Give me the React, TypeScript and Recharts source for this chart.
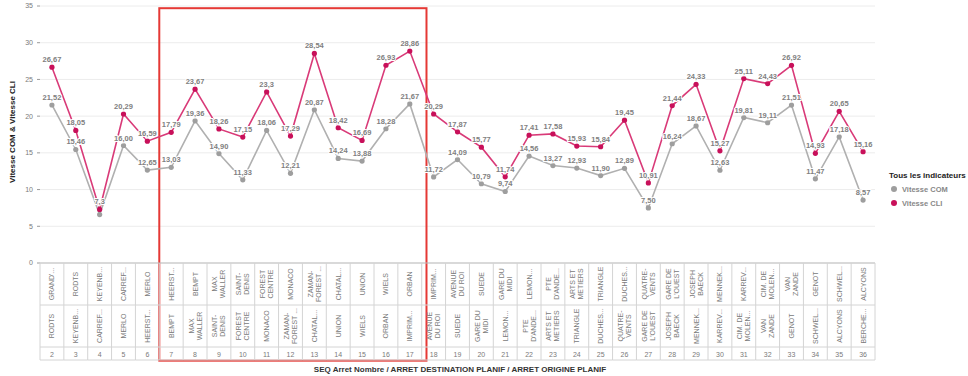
import React from "react";
import {
  LineChart,
  Line,
  XAxis,
  YAxis,
  CartesianGrid,
  LabelList,
  ReferenceArea,
} from "recharts";

const categories = [2, 3, 4, 5, 6, 7, 8, 9, 10, 11, 12, 13, 14, 15, 16, 17, 18, 19, 20, 21, 22, 23, 24, 25, 26, 27, 28, 29, 30, 31, 32, 33, 34, 35, 36];

const destinationLabels = [
  "GRAND'...", "RODTS", "KEYENB...", "CARREF...", "MERLO", "HEERST...", "BEMPT", "MAX\nWALLER",
  "SAINT-\nDENIS", "FOREST\nCENTRE", "MONACO", "ZAMAN-\nFOREST ...", "CHATAL...", "UNION", "WIELS",
  "ORBAN", "IMPRIM...", "AVENUE\nDU ROI", "SUEDE", "GARE DU\nMIDI", "LEMON...", "PTE\nD'ANDE...",
  "ARTS ET\nMETIERS", "TRIANGLE", "DUCHES...", "QUATRE-\nVENTS", "GARE DE\nL'OUEST", "JOSEPH\nBAECK",
  "MENNEK...", "KARREV...", "CIM. DE\nMOLEN...", "VAN\nZANDE", "GENOT", "SCHWEL...", "ALCYONS",
];

const originLabels = [
  "RODTS", "KEYENB...", "CARREF...", "MERLO", "HEERST...", "BEMPT", "MAX\nWALLER", "SAINT-\nDENIS",
  "FOREST\nCENTRE", "MONACO", "ZAMAN-\nFOREST ...", "CHATAL...", "UNION", "WIELS", "ORBAN",
  "IMPRIM...", "AVENUE\nDU ROI", "SUEDE", "GARE DU\nMIDI", "LEMON...", "PTE\nD'ANDE...",
  "ARTS ET\nMETIERS", "TRIANGLE", "DUCHES...", "QUATRE-\nVENTS", "GARE DE\nL'OUEST", "JOSEPH\nBAECK",
  "MENNEK...", "KARREV...", "CIM. DE\nMOLEN...", "VAN\nZANDE", "GENOT", "SCHWEL...", "ALCYONS", "BERCHE...",
];

// values as printed on the chart (comma decimals)
const vitesseCom = [
  "21,52", "15,46", "6,6", "16,00", "12,65", "13,03", "19,36", "14,90", "11,33", "18,06", "12,21",
  "20,87", "14,24", "13,88", "18,28", "21,67", "11,72", "14,09", "10,79", "9,74", "14,56", "13,27",
  "12,93", "11,90", "12,89", "7,50", "16,24", "18,67", "12,63", "19,81", "19,11", "21,51", "11,47",
  "17,18", "8,57",
];

const vitesseCli = [
  "26,67", "18,05", "7,3", "20,29", "16,59", "17,79", "23,67", "18,26", "17,15", "23,3", "17,29",
  "28,54", "18,42", "16,69", "26,93", "28,86", "20,29", "17,87", "15,77", "11,74", "17,41", "17,58",
  "15,93", "15,84", "19,45", "10,91", "21,44", "24,33", "15,27", "25,11", "24,43", "26,92", "14,93",
  "20,65", "15,16",
];

// labels hidden by overlap in the original
const hiddenComLabels = [4];

const yTicks = [0, 5, 10, 15, 20, 25, 30, 35];

const toNum = (s: string) => parseFloat(s.replace(",", "."));

const data = categories.map((c, i) => ({
  seq: c,
  dest: destinationLabels[i],
  orig: originLabels[i],
  com: toNum(vitesseCom[i]),
  cli: toNum(vitesseCli[i]),
  comLabel: hiddenComLabels.includes(c) ? "" : vitesseCom[i],
  cliLabel: vitesseCli[i],
}));

const W = 968;
const H = 376;
const LEFT = 40;
const RIGHT = 875;
const COL_W = (RIGHT - LEFT) / categories.length;
const FONT = "'Liberation Sans', Arial, sans-serif";
const GRID = "#d4d4d4";
const TXT = "#7a7a7a";
const COM_COLOR = "#b0b0b0";
const COM_DOT = "#9e9e9e";
const CLI_COLOR = "#d93a78";
const CLI_DOT = "#c8105a";

function RotText({ cx, cy, label }: { cx: number; cy: number; label: string }) {
  const lines = label.split("\n");
  const lh = 8;
  return (
    <text
      transform={`rotate(-90, ${cx}, ${cy})`}
      x={cx}
      y={cy}
      textAnchor="middle"
      fontSize={7}
      fill={TXT}
      fontFamily={FONT}
    >
      {lines.map((ln, i) => (
        <tspan key={i} x={cx} y={cy + (i - (lines.length - 1) / 2) * lh + 2.5}>
          {ln}
        </tspan>
      ))}
    </text>
  );
}

function TableTick(props: any) {
  const { x, y, index } = props;
  const d = data[index];
  if (!d) return null;
  const l = x - COL_W / 2;
  const r = x + COL_W / 2;
  const r1 = 42;
  const r2 = 84;
  const r3 = 97;
  return (
    <g>
      {index === 0 && <line x1={l} x2={l} y1={y} y2={y + r3} stroke={GRID} />}
      <line x1={r} x2={r} y1={y} y2={y + r3} stroke={GRID} />
      <line x1={l} x2={r} y1={y + r1} y2={y + r1} stroke={GRID} />
      <line x1={l} x2={r} y1={y + r2} y2={y + r2} stroke={GRID} />
      <line x1={l} x2={r} y1={y + r3} y2={y + r3} stroke={GRID} />
      <RotText cx={x} cy={y + r1 / 2} label={d.dest} />
      <RotText cx={x} cy={y + (r1 + r2) / 2} label={d.orig} />
      <text x={x} y={y + r3 - 3.5} textAnchor="middle" fontSize={7} fill={TXT} fontFamily={FONT}>
        {d.seq}
      </text>
    </g>
  );
}

function PointLabel(props: any) {
  const { x, y, value } = props;
  if (!value) return null;
  return (
    <text
      x={x}
      y={y - 5}
      textAnchor="middle"
      fontSize={7.5}
      fontWeight="bold"
      fill="#808080"
      stroke="#ffffff"
      strokeWidth={2}
      paintOrder="stroke"
      fontFamily={FONT}
    >
      {value}
    </text>
  );
}

function RedBox(props: any) {
  const { x, y, width, height } = props;
  return (
    <rect
      x={x - COL_W / 2}
      y={y}
      width={width + COL_W * 1.2}
      height={height}
      fill="none"
      stroke="#e53935"
      strokeWidth={2}
    />
  );
}

export default function App() {
  return (
    <div style={{ position: "absolute", left: 0, top: 0, width: W, height: H, background: "#fff", fontFamily: FONT }}>
      <LineChart width={W} height={H} data={data} margin={{ top: 6, right: W - RIGHT, bottom: 0, left: 0 }}>
        <CartesianGrid vertical={false} stroke="#ececec" />
        <XAxis
          dataKey="seq"
          type="category"
          interval={0}
          padding={{ left: COL_W / 2, right: COL_W / 2 }}
          height={113}
          tickLine={false}
          tickSize={0}
          tickMargin={0}
          axisLine={{ stroke: "#bdbdbd" }}
          tick={<TableTick />}
        />
        <YAxis
          domain={[0, 35]}
          ticks={yTicks}
          width={LEFT}
          axisLine={false}
          tickLine={{ stroke: "#9a9a9a" }}
          tickSize={3}
          tickMargin={4}
          tick={{ fontSize: 7, fill: TXT, fontFamily: FONT }}
        />
        <Line
          dataKey="com"
          stroke={COM_COLOR}
          strokeWidth={1.6}
          dot={{ r: 2.6, fill: COM_DOT, stroke: COM_DOT, strokeWidth: 0 }}
          isAnimationActive={false}
        >
          <LabelList dataKey="comLabel" content={<PointLabel />} />
        </Line>
        <Line
          dataKey="cli"
          stroke={CLI_COLOR}
          strokeWidth={1.6}
          dot={{ r: 2.6, fill: CLI_DOT, stroke: CLI_DOT, strokeWidth: 0 }}
          isAnimationActive={false}
        >
          <LabelList dataKey="cliLabel" content={<PointLabel />} />
        </Line>
        <ReferenceArea x1={7} x2={17} y1={-13.3} y2={34.7} ifOverflow="visible" shape={<RedBox />} />
      </LineChart>
      <svg width={W} height={H} style={{ position: "absolute", left: 0, top: 0, pointerEvents: "none" }}>
        <text
          transform="rotate(-90, 15, 132)"
          x={15}
          y={132}
          textAnchor="middle"
          fontSize={8}
          fontWeight="bold"
          fill="#222"
          fontFamily={FONT}
        >
          Vitesse COM &amp; Vitesse CLI
        </text>
        <text x={460} y={372} textAnchor="middle" fontSize={8} fontWeight="bold" fill="#333" fontFamily={FONT}>
          SEQ Arret Nombre / ARRET DESTINATION PLANIF / ARRET ORIGINE PLANIF
        </text>
        <text x={889} y={178} fontSize={8} fontWeight="bold" fill="#222" fontFamily={FONT}>
          Tous les indicateurs
        </text>
        <circle cx={894} cy={189} r={3} fill={COM_DOT} />
        <text x={902} y={192} fontSize={7.5} fontWeight="bold" fill="#888" fontFamily={FONT}>
          Vitesse COM
        </text>
        <circle cx={894} cy={203} r={3} fill={CLI_DOT} />
        <text x={902} y={206} fontSize={7.5} fontWeight="bold" fill="#888" fontFamily={FONT}>
          Vitesse CLI
        </text>
      </svg>
    </div>
  );
}
